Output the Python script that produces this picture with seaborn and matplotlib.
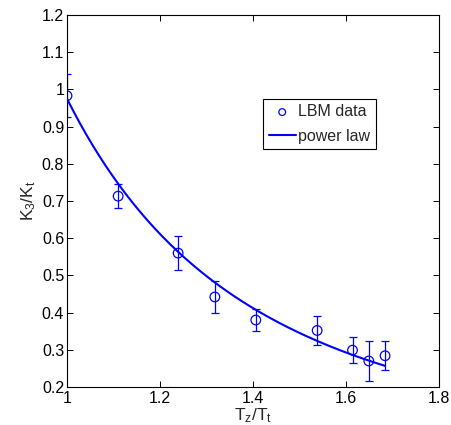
import numpy as np
import pandas as pd
import matplotlib
matplotlib.use("Agg")
import matplotlib.pyplot as plt
import seaborn as sns

# Data
t_ratio = [1.0, 1.110, 1.239, 1.318, 1.406, 1.538, 1.614, 1.649, 1.684]
k_ratio = [0.983, 0.713, 0.560, 0.442, 0.380, 0.352, 0.299, 0.270, 0.284]
k_err = [0.058, 0.033, 0.046, 0.044, 0.030, 0.040, 0.035, 0.054, 0.039]

# Power-law fit parameters: K = a * T^b
pl_a = 0.975
pl_b = -2.56
pl_range = [1.0, 1.684]

xticks = [1.0, 1.2, 1.4, 1.6, 1.8]
xtick_labels = ["1", "1.2", "1.4", "1.6", "1.8"]
yticks = [0.2, 0.3, 0.4, 0.5, 0.6, 0.7, 0.8, 0.9, 1.0, 1.1, 1.2]
ytick_labels = ["0.2", "0.3", "0.4", "0.5", "0.6", "0.7", "0.8", "0.9", "1", "1.1", "1.2"]

sns.set_style("ticks")
plt.rcParams["font.family"] = ["Liberation Sans", "DejaVu Sans"]
plt.rcParams["mathtext.fontset"] = "custom"
plt.rcParams["mathtext.rm"] = "Liberation Sans"
plt.rcParams["mathtext.it"] = "Liberation Sans"
FS = 11.5
plt.rcParams["font.size"] = FS

fig = plt.figure(figsize=(4.52, 4.25), dpi=100)
ax = fig.add_axes([67 / 452, 38 / 425, 372 / 452, 372 / 425])

blue = "#0000ff"
df = pd.DataFrame({"t": t_ratio, "k": k_ratio, "e": k_err})

curve_x = np.linspace(pl_range[0], pl_range[1], 200)
curve = pd.DataFrame({"t": curve_x, "k": pl_a * curve_x ** pl_b})

ax.errorbar(df["t"], df["k"], yerr=df["e"], fmt="none", ecolor=blue,
            elinewidth=0.9, capsize=3, capthick=0.9, zorder=2)
sns.scatterplot(data=df, x="t", y="k", ax=ax, marker="o", s=48,
                facecolors="none", edgecolor=blue, linewidth=0.9,
                label="LBM data", zorder=3)
sns.lineplot(data=curve, x="t", y="k", ax=ax, color=blue, linewidth=1.5,
             label="power law", zorder=4)

ax.set_xlim(1.0, 1.8)
ax.set_ylim(0.2, 1.2)
ax.set_xticks(xticks)
ax.set_xticklabels(xtick_labels)
ax.set_yticks(yticks)
ax.set_yticklabels(ytick_labels)
ax.tick_params(direction="in", length=4, width=0.7, top=True, right=True,
               labelsize=FS, colors="black")
ax.tick_params(axis="y", pad=2)
ax.tick_params(axis="x", pad=3)
for s in ax.spines.values():
    s.set_visible(True)
    s.set_linewidth(0.8)
    s.set_color("black")

ax.set_xlabel(r"T$_z$/T$_t$", fontsize=FS + 1, labelpad=0)
ax.set_ylabel(r"K$_3$/K$_t$", fontsize=FS + 1, labelpad=3)

leg = ax.legend(loc="upper left", bbox_to_anchor=(0.527, 0.775),
                frameon=True, fancybox=False, edgecolor="black",
                framealpha=1, fontsize=FS, handlelength=1.7,
                handletextpad=0.15, borderpad=0.35, labelspacing=0.6,
                borderaxespad=0, markerscale=0.7)
leg.get_frame().set_linewidth(0.8)

fig.savefig("out.png", dpi=100)
